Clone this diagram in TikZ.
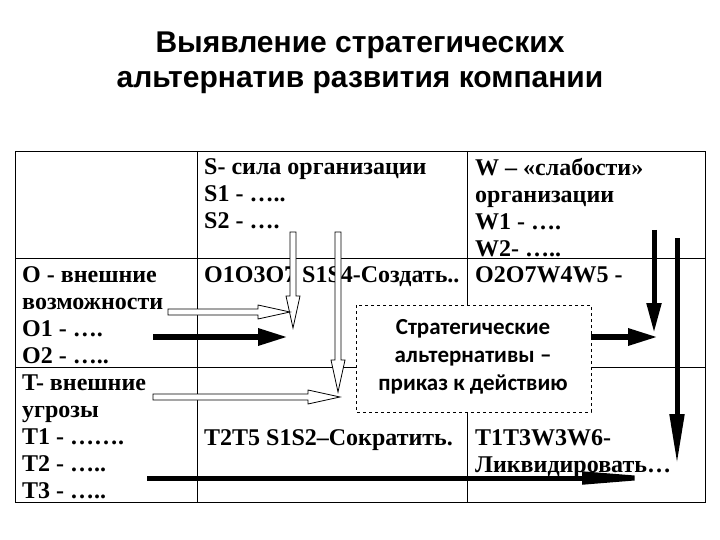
\documentclass[tikz,border=0pt]{standalone}
\usepackage{fontspec}
\setmainfont{Liberation Serif}
\newfontfamily\titlefont{Liberation Sans}
\newfontfamily\boxfont{Carlito}
\usetikzlibrary{arrows.meta}
\tikzset{
 cell/.style={anchor=north west,align=left,font=\bfseries\fontsize{24}{27}\selectfont,inner sep=0pt},
 hollow/.style={draw=black,fill=white,line width=0.8pt},
 solidarr/.style={line width=6pt,-{Triangle[length=30pt,width=16pt]}},
 grid/.style={line width=0.8pt}
}
\newcommand\hrarr[3]{\path[hollow] (#1,#3-3)--(#2-32,#3-3)--(#2-32,#3-7)--(#2,#3)--(#2-32,#3+7)--(#2-32,#3+3)--(#1,#3+3)--cycle;}
\newcommand\vdarr[3]{\path[hollow] (#3-3,#1)--(#3-3,#2-32)--(#3-7,#2-32)--(#3,#2)--(#3+7,#2-32)--(#3+3,#2-32)--(#3+3,#1)--cycle;}
\begin{document}
\begin{tikzpicture}[x=1pt,y=-1pt]
\useasboundingbox (0,0) rectangle (720,540);
\node[font=\titlefont\bfseries\fontsize{30}{35}\selectfont,align=center] (title) at (360,63) {Выявление стратегических\\альтернатив развития компании};
% table
\draw[grid] (15,151) rectangle (705,502);
\draw[grid] (197,151)--(197,502) (467,151)--(467,502);
\draw[grid] (15,258)--(705,258) (15,367)--(705,367);
\node[cell] (sc) at (204,158) {S- сила организации\\S1 - …..\\S2 - ….};
\node[cell] (wc) at (475,158) {W – «слабости»\\организации\\W1 - ….\\W2- …..};
\node[cell] (oc) at (22,266) {O - внешние\\возможности\\O1 - ….\\O2 - …..\\T- внешние\\угрозы\\T1 - …….\\T2 - …..\\T3 - …..};
\node[cell] (so) at (204,266) {O1O3O7 S1S4-Создать..};
\node[cell] (wo) at (475,266) {O2O7W4W5 -};
\node[cell] (st) at (204,429) {T2T5 S1S2–Сократить.};
\node[cell] (wt) at (475,429) {T1T3W3W6-\\Ликвидировать…};
% dashed box
\draw[dashed,fill=white,line width=0.7pt] (356,305) rectangle (591,412);
\node[font=\boxfont\bfseries\fontsize{23}{28}\selectfont,align=center] (box) at (473,357) {Стратегические\\альтернативы –\\приказ к действию};
% hollow arrows
\vdarr{232}{328}{293}
\vdarr{232}{392}{338}
\hrarr{168}{290}{312}
\hrarr{153}{340}{397}
% black arrows
\draw[solidarr] (153,337)--(288,337);
\draw[solidarr] (591,337)--(658,337);
\draw[line width=5pt,-{Triangle[length=30pt,width=14pt]}] (654,230)--(654,333);
\draw[line width=5pt,-{Triangle[length=50pt,width=14pt]}] (677,238)--(677,464);
\draw[line width=5pt,-{Triangle[length=90pt,width=12pt]}] (147,478)--(672,478);
\end{tikzpicture}
\end{document}
